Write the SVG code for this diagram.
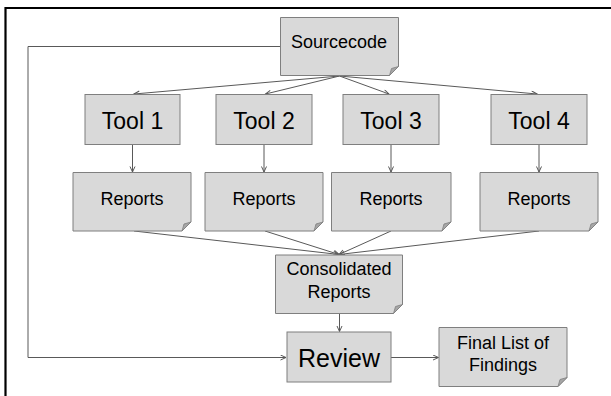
<svg xmlns="http://www.w3.org/2000/svg" width="611" height="396" viewBox="0 0 611 396">
<style>
.box{fill:#d9d9d9;stroke:#7f7f7f;stroke-width:1}
.fold{fill:#a6a6a6;stroke:#7f7f7f;stroke-width:0.8}
.ln{fill:none;stroke:#595959;stroke-width:1}
.t{font-family:"Liberation Sans",Arial,sans-serif;fill:#000;text-anchor:middle}
</style>
<defs>
<marker id="ah" markerWidth="8" markerHeight="8" refX="6" refY="3" orient="auto" markerUnits="userSpaceOnUse">
<path d="M0.5,0.5 L6,3 L0.5,5.5" fill="none" stroke="#595959" stroke-width="1"/>
</marker>
</defs>
<rect width="611" height="396" fill="#fff"/>
<path d="M5.5,396 V8 H611" fill="none" stroke="#000" stroke-width="2.2"/>
<g id="connectors">
<path class="ln" d="M280.5,46.5 H28 V357.5 H286" marker-end="url(#ah)"/>
<path class="ln" d="M339.5,76 L134,94" marker-end="url(#ah)"/>
<path class="ln" d="M339.5,76 L265.5,94" marker-end="url(#ah)"/>
<path class="ln" d="M339.5,76 L389,94" marker-end="url(#ah)"/>
<path class="ln" d="M339.5,76 L537,94" marker-end="url(#ah)"/>
<path class="ln" d="M132.5,145 V172" marker-end="url(#ah)"/>
<path class="ln" d="M264,145 V172" marker-end="url(#ah)"/>
<path class="ln" d="M391,145 V172" marker-end="url(#ah)"/>
<path class="ln" d="M539,145 V172" marker-end="url(#ah)"/>
<path class="ln" d="M134,231 L339,254.5" marker-end="url(#ah)"/>
<path class="ln" d="M265,231 L339,254.5" marker-end="url(#ah)"/>
<path class="ln" d="M391,231 L339,254.5" marker-end="url(#ah)"/>
<path class="ln" d="M539,231 L339,254.5" marker-end="url(#ah)"/>
<path class="ln" d="M339.5,313.5 V331.5" marker-end="url(#ah)"/>
<path class="ln" d="M391,357.5 H438.5" marker-end="url(#ah)"/>
</g>
<g id="sourcecode">
<path class="box" d="M280.5,17.5 H398.5 V66.5 L389.5,75.5 H280.5 Z"/>
<path class="fold" d="M398.5,66.5 L389.5,75.5 L391.5,68.5 Z"/>
<text class="t" x="339" y="48" font-size="18">Sourcecode</text>
</g>
<g id="tool1">
<rect class="box" x="85" y="94.5" width="95" height="50"/>
<text class="t" x="132.5" y="128.5" font-size="23">Tool 1</text>
</g>
<g id="tool2">
<rect class="box" x="216" y="94.5" width="96" height="50"/>
<text class="t" x="264" y="128.5" font-size="23">Tool 2</text>
</g>
<g id="tool3">
<rect class="box" x="343" y="94.5" width="96" height="50"/>
<text class="t" x="391" y="128.5" font-size="23">Tool 3</text>
</g>
<g id="tool4">
<rect class="box" x="491" y="94.5" width="96" height="50"/>
<text class="t" x="539" y="128.5" font-size="23">Tool 4</text>
</g>
<g id="reports1">
<path class="box" d="M73,172.5 H191 V222 L182,231 H73 Z"/>
<path class="fold" d="M191,222 L182,231 L184,224 Z"/>
<text class="t" x="132" y="204.5" font-size="18">Reports</text>
</g>
<g id="reports2">
<path class="box" d="M205,172.5 H323 V222 L314,231 H205 Z"/>
<path class="fold" d="M323,222 L314,231 L316,224 Z"/>
<text class="t" x="264" y="204.5" font-size="18">Reports</text>
</g>
<g id="reports3">
<path class="box" d="M331.5,172.5 H451 V222 L442,231 H331.5 Z"/>
<path class="fold" d="M451,222 L442,231 L444,224 Z"/>
<text class="t" x="391" y="204.5" font-size="18">Reports</text>
</g>
<g id="reports4">
<path class="box" d="M480,172.5 H598 V222 L589,231 H480 Z"/>
<path class="fold" d="M598,222 L589,231 L591,224 Z"/>
<text class="t" x="539" y="204.5" font-size="18">Reports</text>
</g>
<g id="consolidated">
<path class="box" d="M275.5,255 H402.5 V304.5 L393.5,313.5 H275.5 Z"/>
<path class="fold" d="M402.5,304.5 L393.5,313.5 L395.5,306.5 Z"/>
<text class="t" x="339" y="274.5" font-size="18">Consolidated</text>
<text class="t" x="339" y="298" font-size="18">Reports</text>
</g>
<g id="review">
<rect class="box" x="287" y="332" width="104" height="50"/>
<text class="t" x="339" y="366.5" font-size="25">Review</text>
</g>
<g id="final">
<path class="box" d="M439,327.5 H567 V377.5 L558,386.5 H439 Z"/>
<path class="fold" d="M567,377.5 L558,386.5 L560,379.5 Z"/>
<text class="t" x="503" y="349" font-size="18">Final List of</text>
<text class="t" x="503" y="370.5" font-size="18">Findings</text>
</g>
</svg>
